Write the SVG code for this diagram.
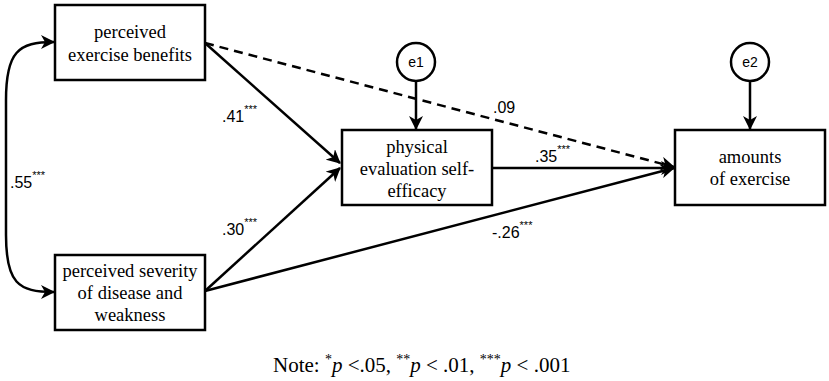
<svg xmlns="http://www.w3.org/2000/svg" width="829" height="381" viewBox="0 0 829 381">
<defs>
<style>
.box{fill:#fff;stroke:#000;stroke-width:2.5}
.err{fill:#fff;stroke:#000;stroke-width:2.5}
.lbl{font-family:"Liberation Serif","Times New Roman",serif;font-size:18.5px;fill:#000;text-anchor:middle}
.coef{font-family:"Liberation Sans",Arial,sans-serif;font-size:16px;fill:#000}
.sup{font-size:11px}
.etxt{font-family:"Liberation Sans",Arial,sans-serif;font-size:14px;fill:#000;text-anchor:middle}
.edge{fill:none;stroke:#000;stroke-width:2.5}
.dash{stroke-dasharray:9 6}
.note{font-family:"Liberation Serif","Times New Roman",serif;font-size:21px;fill:#000}
.nsup{font-size:14px}
</style>
<marker id="ah" markerUnits="userSpaceOnUse" markerWidth="14" markerHeight="14" refX="13" refY="7" orient="auto-start-reverse" viewBox="0 0 14 14">
<path d="M0,0 L14,7 L0,14 L4,7 z" fill="#000"/>
</marker>
</defs>
<rect width="829" height="381" fill="#fff"/>
<g id="connectors">
<path class="edge" d="M54,42 C18,42 6,52 6,100 L6,235 C6,283 18,292 54,292" marker-start="url(#ah)" marker-end="url(#ah)"/>
<line class="edge" x1="205" y1="43" x2="340" y2="163" marker-end="url(#ah)"/>
<line class="edge" x1="205" y1="291" x2="340" y2="168" marker-end="url(#ah)"/>
<line class="edge dash" x1="205" y1="43" x2="674" y2="167" marker-end="url(#ah)"/>
<line class="edge" x1="492" y1="168" x2="674" y2="168" marker-end="url(#ah)"/>
<line class="edge" x1="205" y1="291" x2="674" y2="168" marker-end="url(#ah)"/>
<line class="edge" x1="416" y1="81" x2="416" y2="129" marker-end="url(#ah)"/>
<line class="edge" x1="750" y1="81" x2="750" y2="129" marker-end="url(#ah)"/>
</g>
<g id="labels">
<text class="coef" x="10" y="188">.55<tspan class="sup" dy="-9">***</tspan></text>
<text class="coef" x="222" y="122">.41<tspan class="sup" dy="-9">***</tspan></text>
<text class="coef" x="222" y="235">.30<tspan class="sup" dy="-9">***</tspan></text>
<text class="coef" x="493" y="113">.09</text>
<text class="coef" x="535" y="162">.35<tspan class="sup" dy="-9">***</tspan></text>
<text class="coef" x="492" y="238">-.26<tspan class="sup" dy="-9">***</tspan></text>
</g>
<g id="n-benefits">
<rect class="box" x="55" y="5" width="150" height="75"/>
<text class="lbl" x="130" y="38">perceived</text>
<text class="lbl" x="130" y="61">exercise benefits</text>
</g>
<g id="n-severity">
<rect class="box" x="55" y="255" width="150" height="75"/>
<text class="lbl" x="130" y="277">perceived severity</text>
<text class="lbl" x="130" y="299">of disease and</text>
<text class="lbl" x="130" y="321">weakness</text>
</g>
<g id="n-selfefficacy">
<rect class="box" x="342" y="130" width="150" height="75"/>
<text class="lbl" x="417" y="153">physical</text>
<text class="lbl" x="417" y="175">evaluation self-</text>
<text class="lbl" x="417" y="197">efficacy</text>
</g>
<g id="n-exercise">
<rect class="box" x="675" y="130" width="150" height="75"/>
<text class="lbl" x="750" y="163">amounts</text>
<text class="lbl" x="750" y="185">of exercise</text>
</g>
<g id="n-e1">
<circle class="err" cx="416" cy="62" r="19"/>
<text class="etxt" x="416" y="67">e1</text>
</g>
<g id="n-e2">
<circle class="err" cx="750" cy="62" r="19"/>
<text class="etxt" x="750" y="67">e2</text>
</g>
<text class="note" x="273" y="372">Note: <tspan class="nsup" dy="-8">*</tspan><tspan font-style="italic" dy="8">p</tspan> &lt;.05, <tspan class="nsup" dy="-8">**</tspan><tspan font-style="italic" dy="8">p</tspan> &lt; .01, <tspan class="nsup" dy="-8">***</tspan><tspan font-style="italic" dy="8">p</tspan> &lt; .001</text>
</svg>
